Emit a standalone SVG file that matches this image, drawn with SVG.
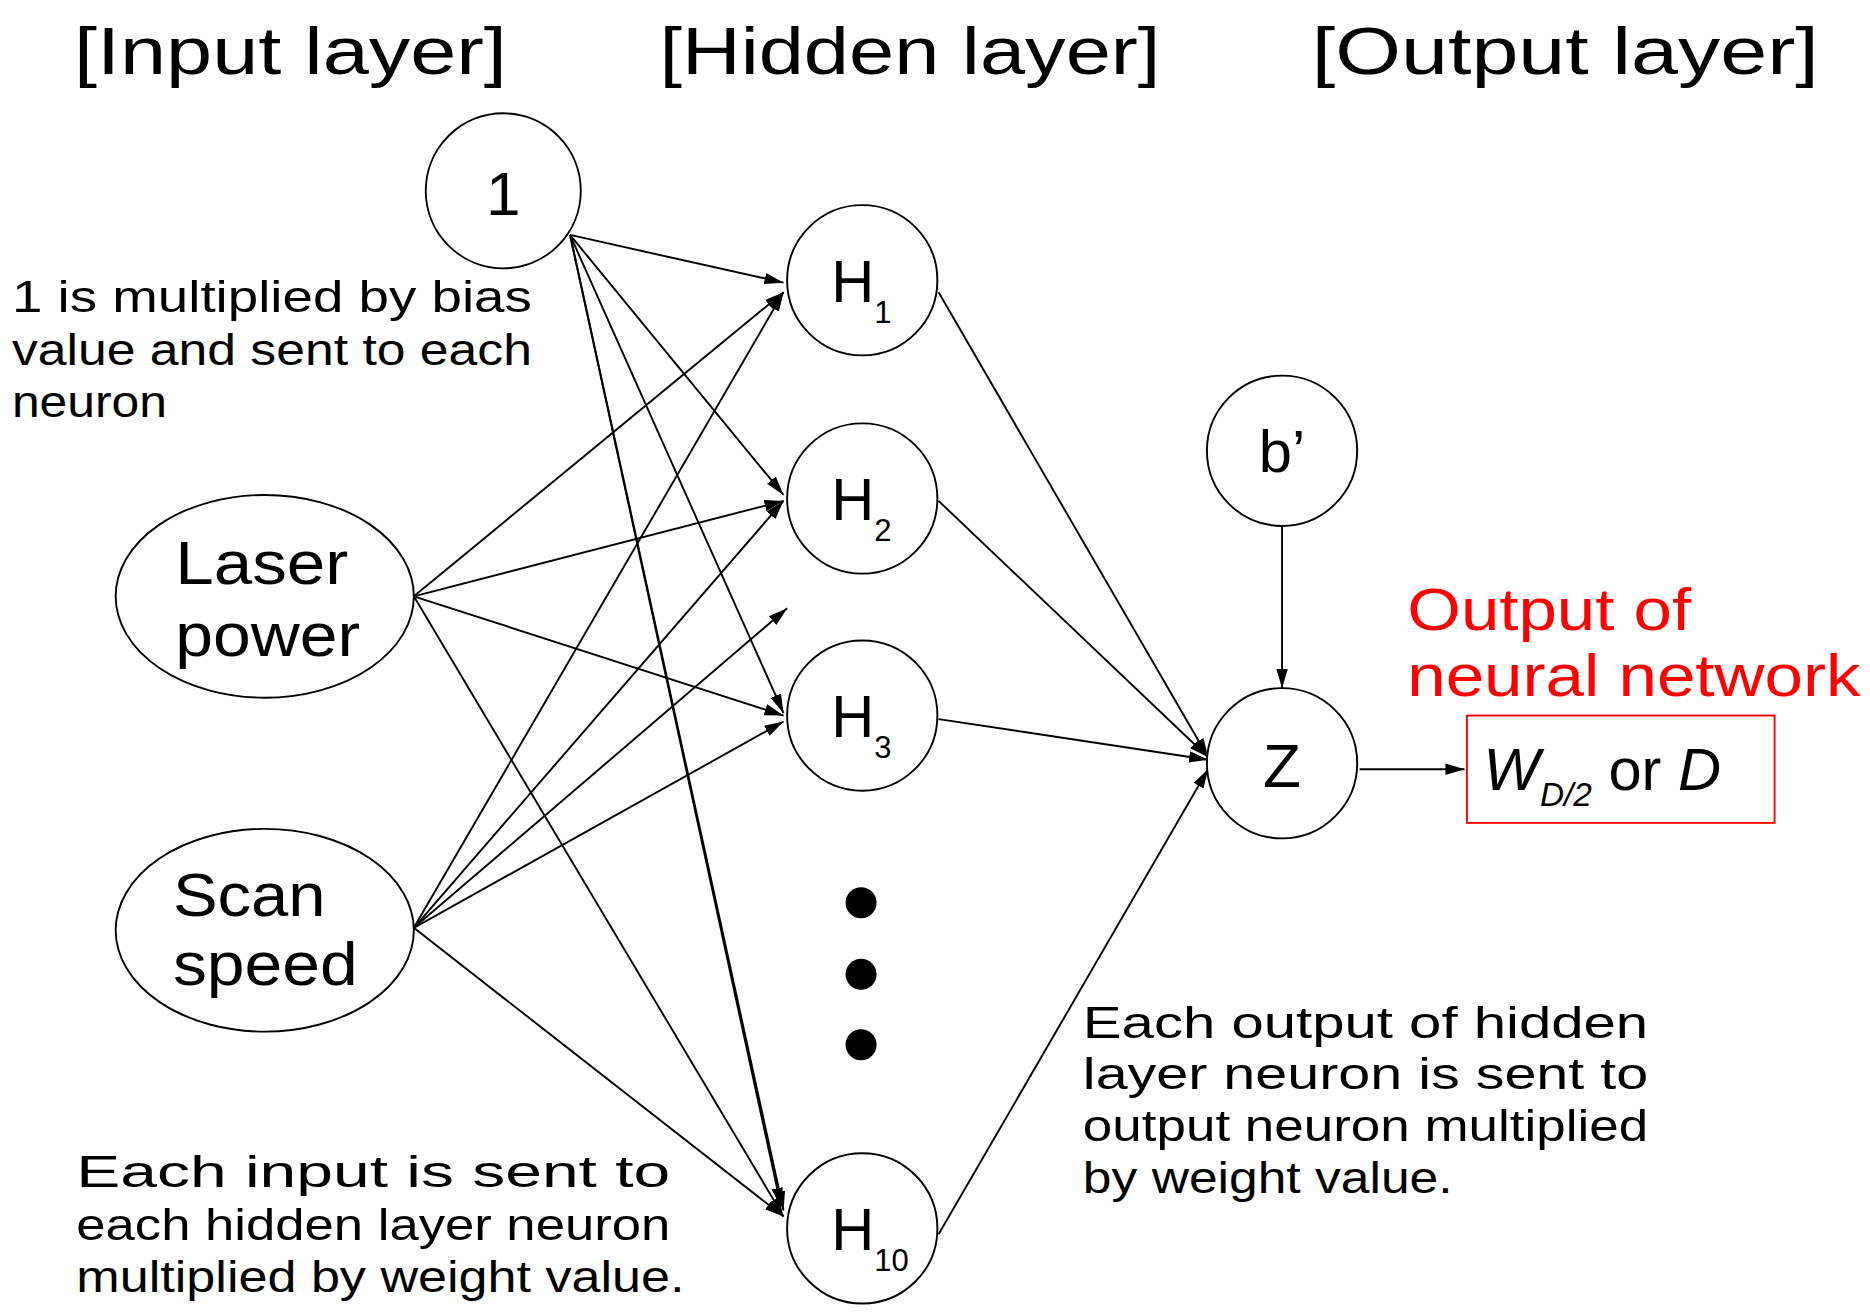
<svg xmlns="http://www.w3.org/2000/svg" width="1870" height="1316" viewBox="0 0 1870 1316">
<style>
.n{fill:#fff;stroke:#000;stroke-width:1.6}
.t{font-family:"Liberation Sans",Arial,sans-serif;fill:#000}
.c line{stroke:#000;stroke-width:1.6;marker-end:url(#a)}
</style>
<defs><marker id="a" viewBox="0 0 10 10" refX="10" refY="5" markerWidth="16" markerHeight="16" markerUnits="userSpaceOnUse" orient="auto"><path d="M0,2L10,5L0,8z" fill="#000"/></marker></defs>
<rect width="1870" height="1316" fill="#fff"/>
<g transform="scale(1.1926)">
<g class="t" font-size="56">
<text x="62" y="62" textLength="363" lengthAdjust="spacingAndGlyphs">[Input layer]</text>
<text x="553" y="62" textLength="420" lengthAdjust="spacingAndGlyphs">[Hidden layer]</text>
<text x="1100" y="62" textLength="425" lengthAdjust="spacingAndGlyphs">[Output layer]</text>
</g>
<g class="c">
<line x1="478" y1="197" x2="657" y2="237"/>
<line x1="478" y1="197" x2="657" y2="415"/>
<line x1="478" y1="197" x2="657" y2="598"/>
<line x1="478" y1="197" x2="657" y2="1015"/>
<line x1="478" y1="197" x2="655" y2="1012"/>
<line x1="347" y1="500" x2="657" y2="245"/>
<line x1="347" y1="500" x2="657" y2="420"/>
<line x1="347" y1="500" x2="657" y2="600"/>
<line x1="347" y1="500" x2="657" y2="1020"/>
<line x1="347" y1="778" x2="657" y2="245"/>
<line x1="347" y1="778" x2="657" y2="420"/>
<line x1="347" y1="778" x2="660" y2="510"/>
<line x1="347" y1="778" x2="657" y2="605"/>
<line x1="347" y1="778" x2="657" y2="1020"/>
<line x1="787" y1="245" x2="1013" y2="635"/>
<line x1="787" y1="420" x2="1013" y2="635"/>
<line x1="787" y1="603" x2="1013" y2="637"/>
<line x1="787" y1="1035" x2="1013" y2="645"/>
<line x1="1075" y1="441" x2="1075" y2="577"/>
<line x1="1140" y1="645" x2="1228" y2="645"/>
</g>
<g id="n1"><circle class="n" cx="422" cy="160" r="65"/><text class="t" x="422" y="180" font-size="52" text-anchor="middle">1</text></g>
<g id="laser"><ellipse class="n" cx="222" cy="500" rx="125" ry="85"/><text class="t" font-size="52"><tspan x="147" y="490" textLength="145" lengthAdjust="spacingAndGlyphs">Laser</tspan><tspan x="147" y="550" textLength="155" lengthAdjust="spacingAndGlyphs">power</tspan></text></g>
<g id="scan"><ellipse class="n" cx="222" cy="780" rx="125" ry="85"/><text class="t" font-size="52"><tspan x="145" y="768" textLength="128" lengthAdjust="spacingAndGlyphs">Scan</tspan><tspan x="145" y="826" textLength="155" lengthAdjust="spacingAndGlyphs">speed</tspan></text></g>
<g id="h1"><circle class="n" cx="723" cy="235" r="63"/><text class="t" x="697" y="253" font-size="50">H<tspan font-size="26" dy="18">1</tspan></text></g>
<g id="h2"><circle class="n" cx="723" cy="418" r="63"/><text class="t" x="697" y="436" font-size="50">H<tspan font-size="26" dy="18">2</tspan></text></g>
<g id="h3"><circle class="n" cx="723" cy="600" r="63"/><text class="t" x="697" y="618" font-size="50">H<tspan font-size="26" dy="18">3</tspan></text></g>
<g id="h10"><circle class="n" cx="723" cy="1030" r="63"/><text class="t" x="697" y="1048" font-size="50">H<tspan font-size="26" dy="18">10</tspan></text></g>
<g id="dots"><circle cx="722" cy="757" r="13"/><circle cx="722" cy="817" r="13"/><circle cx="722" cy="876" r="13"/></g>
<g id="bp"><circle class="n" cx="1075" cy="378" r="63"/><text class="t" x="1075" y="396" font-size="50" text-anchor="middle">b’</text></g>
<g id="z"><circle class="n" cx="1075" cy="640" r="63"/><text class="t" x="1075" y="660" font-size="52" text-anchor="middle">Z</text></g>
<g id="out"><rect x="1230" y="600" width="258" height="90" fill="none" stroke="#f00" stroke-width="1.6"/>
<text class="t" x="1244" y="662" font-size="50"><tspan font-style="italic">W</tspan><tspan font-style="italic" font-size="28" dy="14">D/2</tspan><tspan dy="-14"> or </tspan><tspan font-style="italic">D</tspan></text>
<text class="t" font-size="50" style="fill:#f00"><tspan x="1180" y="528" textLength="238" lengthAdjust="spacingAndGlyphs">Output of</tspan><tspan x="1180" y="584" textLength="380" lengthAdjust="spacingAndGlyphs">neural network</tspan></text></g>
<g class="t" font-size="37">
<text x="10" y="262" textLength="436" lengthAdjust="spacingAndGlyphs">1 is multiplied by bias</text>
<text x="10" y="306" textLength="436" lengthAdjust="spacingAndGlyphs">value and sent to each</text>
<text x="10" y="350" textLength="130" lengthAdjust="spacingAndGlyphs">neuron</text>
<text x="64" y="995" textLength="498" lengthAdjust="spacingAndGlyphs">Each input is sent to</text>
<text x="64" y="1040" textLength="498" lengthAdjust="spacingAndGlyphs">each hidden layer neuron</text>
<text x="64" y="1083" textLength="510" lengthAdjust="spacingAndGlyphs">multiplied by weight value.</text>
<text x="908" y="870" textLength="474" lengthAdjust="spacingAndGlyphs">Each output of hidden</text>
<text x="908" y="913" textLength="474" lengthAdjust="spacingAndGlyphs">layer neuron is sent to</text>
<text x="908" y="957" textLength="474" lengthAdjust="spacingAndGlyphs">output neuron multiplied</text>
<text x="908" y="1000" textLength="310" lengthAdjust="spacingAndGlyphs">by weight value.</text>
</g>
</g>
</svg>
